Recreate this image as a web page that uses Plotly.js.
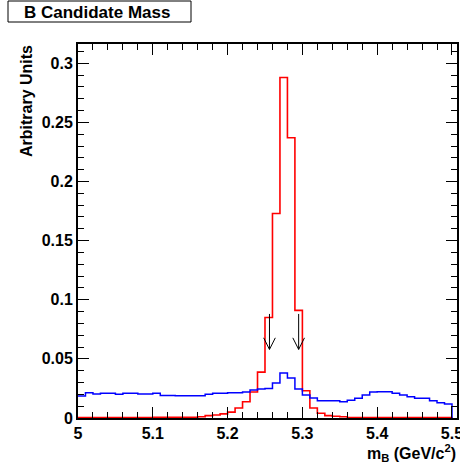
<!DOCTYPE html>
<html><head><meta charset="utf-8">
<script src="https://cdn.plot.ly/plotly-3.0.1.min.js"></script>
<style>html,body{margin:0;padding:0;background:#fff;}#chart{width:460px;height:465px;}</style>
</head><body><div id="chart"></div>
<script>
// bin edges (GeV/c^2)
const binEdges = [5.00,5.01,5.02,5.03,5.04,5.05,5.06,5.07,5.08,5.09,
  5.10,5.11,5.12,5.13,5.14,5.15,5.16,5.17,5.18,5.19,
  5.20,5.21,5.22,5.23,5.24,5.25,5.26,5.27,5.28,5.29,
  5.30,5.31,5.32,5.33,5.34,5.35,5.36,5.37,5.38,5.39,
  5.40,5.41,5.42,5.43,5.44,5.45,5.46,5.47,5.48,5.49,5.50];
// signal (red)
const signalValues = [0.0003,0.0003,0.0003,0.0003,0.0003,0.0003,0.0003,0.0003,0.0003,0.0003,
  0.0005,0.0005,0.0005,0.0005,0.0005,0.0005,0.001,0.002,0.0025,0.0035,
  0.005,0.0084,0.0138,0.022,0.0388,0.085,0.173,0.288,0.237,0.091,
  0.023,0.0084,0.004,0.002,0.0015,0.001,0.0004,0.0004,0.0004,0.0004,
  0.0004,0.0004,0.0004,0.0004,0.0004,0.0004,0.0004,0.0004,0.0004,0.0004];
// background (blue)
const backgroundValues = [0.0186,0.0214,0.0203,0.021,0.021,0.020,0.021,0.021,0.0203,0.0203,
  0.021,0.019,0.019,0.0188,0.0188,0.0188,0.0188,0.020,0.021,0.021,
  0.0214,0.0214,0.022,0.0236,0.0245,0.025,0.0295,0.038,0.0338,0.0245,
  0.0194,0.017,0.0146,0.0146,0.0146,0.0138,0.015,0.0167,0.0195,0.022,
  0.0222,0.0222,0.021,0.0195,0.018,0.0167,0.0167,0.0146,0.013,0.0118];
// selection window arrows
const arrowX = [5.256, 5.295];
const arrowTop = 0.088, arrowTip = 0.058;
const xTickVals = [5, 5.1, 5.2, 5.3, 5.4, 5.5];
const xTickText = ['5','5.1','5.2','5.3','5.4','5.5'];
const yTickVals = [0, 0.05, 0.1, 0.15, 0.2, 0.25, 0.3];
const yTickText = ['0','0.05','0.1','0.15','0.2','0.25','0.3'];

function stepTrace(vals, color, width){
  const xs = binEdges.slice();
  const ys = vals.concat([vals[vals.length-1]]);
  xs.push(binEdges[binEdges.length-1]); ys.push(0);
  return {x: xs, y: ys, type:'scatter', mode:'lines', line:{shape:'hv', color: color, width: width}, hoverinfo:'skip', showlegend:false};
}

const W = 460, H = 465;
const M = {l:78, r:3, t:44, b:47};
const PW = W - M.l - M.r, PH = H - M.t - M.b;
const px = x => (x - M.l) / PW;
const py = y => (H - M.b - y) / PH;

const font = 'Liberation Sans, Arial, Helvetica, sans-serif';
const shapes = [];
arrowX.forEach(ax => {
  shapes.push({type:'line', xref:'x', yref:'y', x0:ax, x1:ax, y0:arrowTop, y1:arrowTip, line:{color:'#000', width:1}});
  shapes.push({type:'path', xref:'x', yref:'y',
    path:`M ${ax-0.0078} ${arrowTip+0.0098} L ${ax} ${arrowTip} L ${ax+0.0078} ${arrowTip+0.0098}`,
    line:{color:'#000', width:1}});
});
shapes.push({type:'rect', xref:'paper', yref:'paper', x0:px(8), x1:px(191), y0:py(22), y1:py(1), line:{color:'#000', width:1}, fillcolor:'#fff'});

const layout = {
  width: W, height: H, margin: M, paper_bgcolor:'#fff', plot_bgcolor:'#fff',
  font:{family: font, size:16, color:'#000', weight:'bold'},
  xaxis:{range:[5, 5.5067], tickvals:xTickVals, ticktext:xTickText, ticks:'inside', ticklen:11, tickwidth:1, tickcolor:'#000',
    minor:{dtick:0.02, tick0:5, ticks:'inside', ticklen:6, tickwidth:1, tickcolor:'#000'},
    showline:true, linecolor:'#000', linewidth:2, mirror:'allticks', showgrid:false, zeroline:false,
    ticklabeloverflow:'allow',
    tickfont:{family:font, size:16, weight:'bold'}, fixedrange:true},
  yaxis:{range:[0, 0.3163], tickvals:yTickVals, ticktext:yTickText, ticks:'inside', ticklen:11, tickwidth:1, tickcolor:'#000',
    minor:{dtick:0.01, tick0:0, ticks:'inside', ticklen:6, tickwidth:1, tickcolor:'#000'},
    showline:true, linecolor:'#000', linewidth:2, mirror:'allticks', showgrid:false, zeroline:false,
    ticklabeloverflow:'allow',
    tickfont:{family:font, size:16, weight:'bold'}, fixedrange:true},
  shapes: shapes,
  annotations:[
    {text:'B Candidate Mass', xref:'paper', yref:'paper', x:px(22), y:py(12), xanchor:'left', yanchor:'middle', showarrow:false, font:{family:font, size:17, weight:'bold'}},
    {text:'Arbitrary Units', xref:'paper', yref:'paper', x:px(26), y:py(101), xanchor:'center', yanchor:'middle', textangle:-90, showarrow:false, font:{family:font, size:16, weight:'bold'}},
    {text:'m<sub>B</sub> (GeV/c<sup>2</sup>)', xref:'paper', yref:'paper', x:px(458), y:py(453), xanchor:'right', yanchor:'middle', showarrow:false, font:{family:font, size:16, weight:'bold'}}
  ]
};
Plotly.newPlot('chart', [stepTrace(signalValues, '#ff0000', 1.6), stepTrace(backgroundValues, '#0000ff', 1.5)], layout, {staticPlot:true, displayModeBar:false});
</script></body></html>
